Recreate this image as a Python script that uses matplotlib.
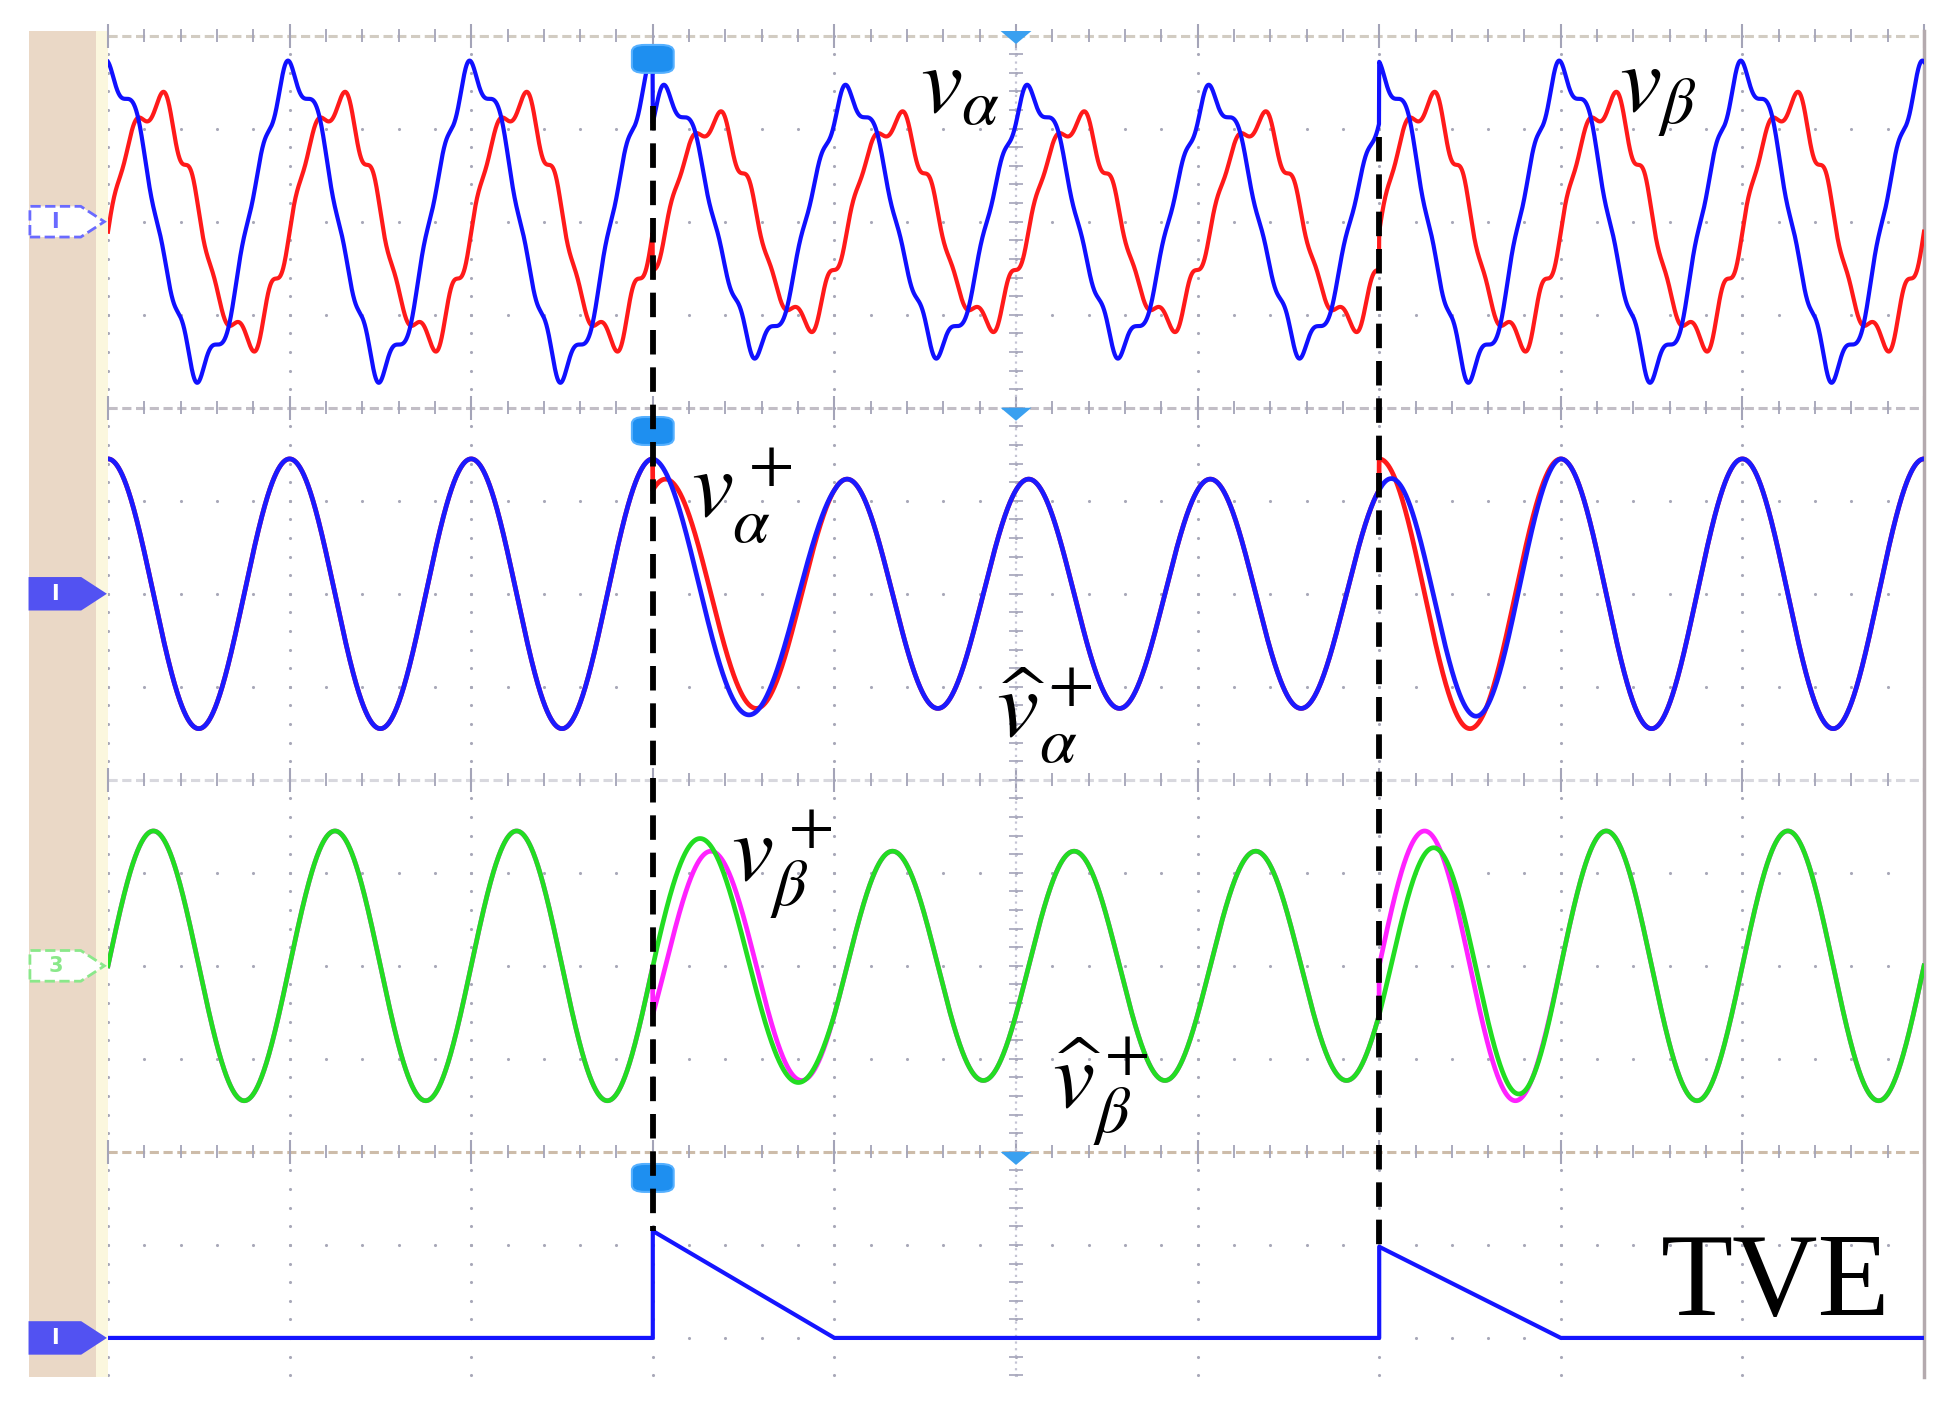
import numpy as np
import matplotlib.pyplot as plt
from matplotlib.patches import Rectangle, Polygon, FancyBboxPatch

plt.rcParams['mathtext.fontset'] = 'stix'

# values, 1 unit = 1 grid division
events = [3.0, 7.0]        # disturbance instants
sag_gain = 0.85            # amplitude factor between the two events
sag_lag = 0.07             # phase lag between the events (cycles)
pos_amp = 1.45             # positive-sequence amplitude

# raw v_alpha and v_beta over one cycle (position in div, value in div)
cycle_read = 0.975         # width of one cycle where these were read
va_pos = [0.000, 0.039, 0.066, 0.121, 0.149, 0.176, 0.215, 0.248, 0.297, 0.325,
          0.358, 0.407, 0.441, 0.490, 0.523, 0.562, 0.617, 0.644, 0.683, 0.710,
          0.765, 0.820, 0.848, 0.876, 0.909, 0.975]
va_val = [1.74, 1.53, 1.37, 1.34, 1.24, 0.88, 0.42, 0.05, -0.27, -0.73,
          -0.95, -1.09, -1.48, -1.68, -1.48, -1.27, -1.29, -1.16, -0.81, -0.44,
          0.10, 0.63, 0.91, 0.99, 1.34, 1.72]
vb_pos = [0.000, 0.028, 0.066, 0.105, 0.138, 0.165, 0.215, 0.242, 0.270, 0.297,
          0.325, 0.352, 0.385, 0.435, 0.463, 0.490, 0.523, 0.562, 0.600, 0.633,
          0.661, 0.710, 0.743, 0.782, 0.809, 0.837, 0.876, 0.931, 0.964]
vb_val = [0.02, 0.27, 0.63, 0.91, 1.17, 1.23, 1.10, 1.20, 1.39, 1.42,
          1.31, 1.06, 0.70, 0.63, 0.48, 0.10, -0.16, -0.44, -0.73, -0.91,
          -1.09, -1.02, -1.16, -1.34, -1.27, -0.98, -0.59, -0.52, -0.27]

# TVE trace, div above its baseline
tve_t = [0, 3, 3, 4, 7, 7, 8, 10]
tve_v = [0, 0, 1.15, 0, 0, 0.98, 0, 0]

# channel zero levels on screen
off_raw, off_alpha, off_beta, off_tve = 10, 6, 2, -2

orders = np.array([1, 3, 5, 7, 9])


def basis(p):
    arg = 2 * np.pi * np.outer(np.asarray(p, float), orders)
    return np.hstack([np.cos(arg), np.sin(arg)])


def fit_cycle(pos, val):
    M = basis(np.asarray(pos) / cycle_read)
    pen = np.diag(np.tile(orders ** 2, 2) * 0.01)
    coef = np.linalg.solve(M.T @ M + pen, M.T @ np.asarray(val))
    return lambda p: basis(p) @ coef


def state(t):
    inside = (t >= events[0]) & (t < events[1])
    return np.where(inside, sag_gain, 1.0), np.where(inside, sag_lag, 0.0)


def actual(t, f):
    g, d = state(t)
    return g * f(t - d)


def estimate(t, f):
    out = actual(t, f)
    for e in events:
        w = t - e
        m = (w >= 0) & (w < 1)
        g0, d0 = state(np.array([e - 1e-6]))
        g1, d1 = state(np.array([e]))
        out[m] = (1 - w[m]) * g0 * f(t[m] - d0) + w[m] * g1 * f(t[m] - d1)
    return out


f_va = fit_cycle(va_pos, va_val)
f_vb = fit_cycle(vb_pos, vb_val)
f_cos = lambda p: pos_amp * np.cos(2 * np.pi * p)
f_sin = lambda p: pos_amp * np.sin(2 * np.pi * p)

t = np.linspace(0, 10, 8001)

fig = plt.figure(figsize=(19.59, 14.16), dpi=100)
ax = fig.add_axes([108 / 1959, 39 / 1416, 1816 / 1959, 1346 / 1416])
ax.set_xlim(0, 10)
ax.set_ylim(-2.42, 12.05)
ax.axis('off')

# left strip of the scope window
ax.add_patch(Rectangle((-0.435, -2.42), 0.37, 14.47, fc='#ead8c6', ec='none', clip_on=False))
ax.add_patch(Rectangle((-0.065, -2.42), 0.065, 14.47, fc='#fbf7de', ec='none', clip_on=False))

# dotted graticule
gc = '#a8a8b8'
ys = np.arange(-2.4, 12.05, 0.2)
xs = np.arange(0, 10.01, 0.2)
for X in range(0, 10):
    ax.scatter(np.full_like(ys, X), ys, s=5, c=gc, lw=0, zorder=1)
for Y in [-2, -1, 1, 2, 3, 5, 6, 7, 9, 10, 11]:
    ax.scatter(xs, np.full_like(xs, Y), s=5, c=gc, lw=0, zorder=1)

# pane separators with tick marks
for Y, col in [(12.0, '#d2ccc2'), (8, '#c2bec6'), (4, '#d8d8de'), (0, '#cdbca9')]:
    ax.plot([0, 10], [Y, Y], color=col, lw=2.2, ls=(0, (3, 1.5)), zorder=1, clip_on=False)
    ax.vlines(xs, Y - 0.07, Y + 0.07, color='#a4a4b8', lw=1.3, zorder=1, clip_on=False)
    ax.vlines(np.arange(0, 11), Y - 0.13, Y + 0.13, color='#a4a4b8', lw=1.5, zorder=1, clip_on=False)

# centre vertical axis
ax.plot([5, 5], [-2.42, 12.05], color='#c4c4d4', lw=1.6, ls=(0, (1, 2)), zorder=1)
ax.hlines(ys, 5 - 0.04, 5 + 0.04, color='#aaaabe', lw=1.3, zorder=1)
ax.plot([10, 10], [-2.42, 12.05], color='#b4aaae', lw=2.5, zorder=1, clip_on=False)

# traces
ax.plot(t, off_raw + actual(t, f_vb), color='#ff1a1a', lw=3.0, zorder=3)
ax.plot(t, off_raw + actual(t, f_va), color='#1010ff', lw=3.0, zorder=3)
ax.plot(t, off_alpha + actual(t, f_cos), color='#ff1a1a', lw=3.4, zorder=3)
ax.plot(t, off_alpha + estimate(t, f_cos), color='#1a1aff', lw=3.4, zorder=3)
ax.plot(t, off_beta + actual(t, f_sin), color='#ff22ff', lw=3.4, zorder=3)
ax.plot(t, off_beta + estimate(t, f_sin), color='#22dd22', lw=3.4, zorder=3)
ax.plot(tve_t, off_tve + np.array(tve_v), color='#1515ff', lw=3.0, zorder=3)

# channel markers on the left
for Y, fc, ec, lab, ls in [(off_raw, 'white', '#6a6aff', 'I', '--'),
                          (off_alpha, '#5252f2', '#5252f2', 'I', '-'),
                          (off_beta, 'white', '#8ae88a', '3', '--'),
                          (off_tve, '#5252f2', '#5252f2', 'I', '-')]:
    h = 0.165
    ax.add_patch(Polygon([(-0.43, Y - h), (-0.15, Y - h), (-0.02, Y), (-0.15, Y + h), (-0.43, Y + h)],
                         closed=True, fc=fc, ec=ec, lw=2, ls=ls, clip_on=False, zorder=4))
    ax.text(-0.29, Y, lab, color='white' if fc != 'white' else ec, fontsize=15,
            ha='center', va='center', fontweight='bold', clip_on=False, zorder=5)

# trigger and centre markers
for Y in [11.75, 7.75, -0.28]:
    ax.add_patch(FancyBboxPatch((3 - 0.115, Y - 0.15), 0.23, 0.3,
                                boxstyle='round,pad=0,rounding_size=0.07',
                                fc='#1e8ff0', ec='#55b0ff', lw=1.5, zorder=4))
for Y in [12.05, 8.0, 0.0]:
    ax.add_patch(Polygon([(5 - 0.085, Y), (5 + 0.085, Y), (5, Y - 0.14)], closed=True,
                         fc='#3aa0f0', ec='none', zorder=4, clip_on=False))

# event lines
ax.plot([events[0]] * 2, [11.24, off_tve + tve_v[2]], color='black', lw=4.2,
        ls=(0, (4.2, 2.2)), zorder=6)
ax.plot([events[1]] * 2, [10.91, off_tve + tve_v[5]], color='black', lw=4.2,
        ls=(0, (4.2, 2.2)), zorder=6)

# labels
fs = 68
ax.text(4.47, 11.17, r'$v_\alpha$', fontsize=fs, va='baseline', zorder=7)
ax.text(8.32, 11.2, r'$v_\beta$', fontsize=fs, va='baseline', zorder=7)
ax.text(3.21, 6.82, r'$v_\alpha^+$', fontsize=fs, va='baseline', zorder=7)
ax.text(4.89, 4.45, r'$\widehat{v}_\alpha^+$', fontsize=fs, va='baseline', zorder=7)
ax.text(3.43, 2.92, r'$v_\beta^+$', fontsize=fs, va='baseline', zorder=7)
ax.text(5.2, 0.49, r'$\widehat{v}_\beta^+$', fontsize=fs, va='baseline', zorder=7)
ax.text(8.55, -1.75, 'TVE', fontsize=85, family='Liberation Serif', va='baseline', zorder=7)

fig.savefig('out.png', dpi=100, facecolor='white')
